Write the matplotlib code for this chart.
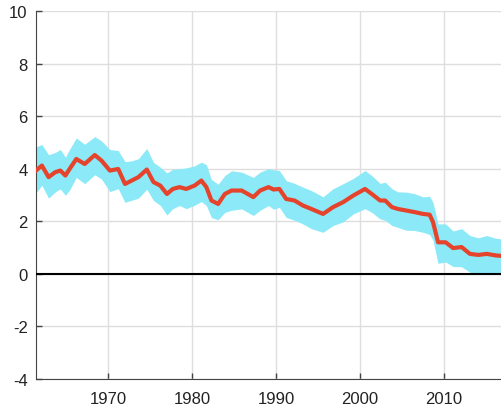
import matplotlib
matplotlib.use("Agg")
import matplotlib.pyplot as plt
import numpy as np

# red line (year, value)
years = [1961.4, 1962.1, 1962.9, 1963.7, 1964.3, 1964.9, 1965.4, 1966.2, 1967.2, 1968.4,
         1969.2, 1970.2, 1971.2, 1972.0, 1972.8, 1973.6, 1974.6, 1975.4, 1976.2, 1977.0,
         1977.7, 1978.5, 1979.3, 1980.3, 1981.1, 1981.7, 1982.3, 1983.1, 1983.9, 1984.7,
         1985.9, 1987.3, 1988.1, 1989.1, 1989.7, 1990.4, 1991.2, 1992.2, 1993.2, 1994.2,
         1995.6, 1996.8, 1998.0, 1999.2, 2000.6, 2001.4, 2002.4, 2003.0, 2003.8, 2004.5,
         2005.5, 2006.5, 2007.5, 2008.3, 2008.7, 2009.3, 2010.2, 2011.1, 2012.1, 2013.1,
         2014.1, 2015.1, 2016.2, 2017.0]
values = [3.93, 4.12, 3.68, 3.87, 3.93, 3.74, 3.99, 4.37, 4.18, 4.52,
          4.31, 3.93, 3.99, 3.42, 3.55, 3.68, 3.97, 3.49, 3.36, 3.04,
          3.23, 3.30, 3.23, 3.36, 3.55, 3.30, 2.79, 2.66, 3.04, 3.17,
          3.17, 2.92, 3.17, 3.30, 3.21, 3.23, 2.85, 2.79, 2.60, 2.47,
          2.28, 2.54, 2.73, 2.98, 3.23, 3.04, 2.79, 2.79, 2.54, 2.47,
          2.41, 2.35, 2.28, 2.25, 1.97, 1.20, 1.20, 0.98, 1.02, 0.76,
          0.72, 0.76, 0.70, 0.68]
# cyan band, distance above / below the line
band_up = [0.90, 0.80, 0.85, 0.75, 0.80, 0.70, 0.75, 0.80, 0.75, 0.70,
           0.75, 0.80, 0.70, 0.85, 0.75, 0.70, 0.80, 0.75, 0.70, 0.80,
           0.75, 0.70, 0.80, 0.75, 0.70, 0.85, 0.80, 0.75, 0.70, 0.75,
           0.70, 0.75, 0.70, 0.70, 0.75, 0.70, 0.70, 0.65, 0.70, 0.70,
           0.65, 0.70, 0.70, 0.65, 0.70, 0.70, 0.65, 0.70, 0.70, 0.65,
           0.70, 0.70, 0.65, 0.70, 0.75, 0.70, 0.70, 0.65, 0.70, 0.70,
           0.65, 0.70, 0.65, 0.65]
band_down = [0.85, 0.75, 0.80, 0.75, 0.70, 0.75, 0.80, 0.70, 0.75, 0.75,
             0.70, 0.80, 0.75, 0.70, 0.75, 0.80, 0.75, 0.70, 0.75, 0.80,
             0.75, 0.70, 0.75, 0.75, 0.80, 0.70, 0.65, 0.60, 0.70, 0.75,
             0.70, 0.70, 0.75, 0.70, 0.75, 0.70, 0.70, 0.75, 0.70, 0.75,
             0.70, 0.70, 0.75, 0.70, 0.75, 0.70, 0.70, 0.75, 0.70, 0.70,
             0.75, 0.70, 0.70, 0.75, 0.70, 0.80, 0.75, 0.70, 0.75, 0.70,
             0.75, 0.70, 0.70, 0.70]

xticks = [1970, 1980, 1990, 2000, 2010]
yticks = [-4, -2, 0, 2, 4, 6, 8, 10]

plt.rcParams['font.family'] = ['Liberation Sans', 'DejaVu Sans']
plt.rcParams['axes.unicode_minus'] = False

fig = plt.figure(figsize=(5.01, 4.06), dpi=100)
ax = fig.add_axes([36/501, 1 - 380/406, 1 - 36/501, 368/406])

y = np.array(values)
ax.fill_between(years, y + np.array(band_up), y - np.array(band_down),
                color='#8ce9f7', lw=0, zorder=2)
ax.plot(years, values, color='#e5432c', lw=3, zorder=3)
ax.axhline(0, color='black', lw=1.5, zorder=4)

ax.set_xlim(1961.4, 2016.8)
ax.set_ylim(-4, 10)
ax.set_xticks(xticks)
ax.set_yticks(yticks)
ax.grid(True, color='#dedede', lw=1, zorder=0)
ax.set_axisbelow(True)

for s in ['top', 'right']:
    ax.spines[s].set_visible(False)
ax.spines['left'].set_color('#444444')
ax.spines['bottom'].set_color('#444444')
ax.tick_params(direction='in', length=4, width=1, color='#444444',
               labelsize=12, labelcolor='#222222')
ax.tick_params(axis='x', pad=9)
ax.tick_params(axis='y', pad=6)

fig.savefig('out.png', dpi=100)
